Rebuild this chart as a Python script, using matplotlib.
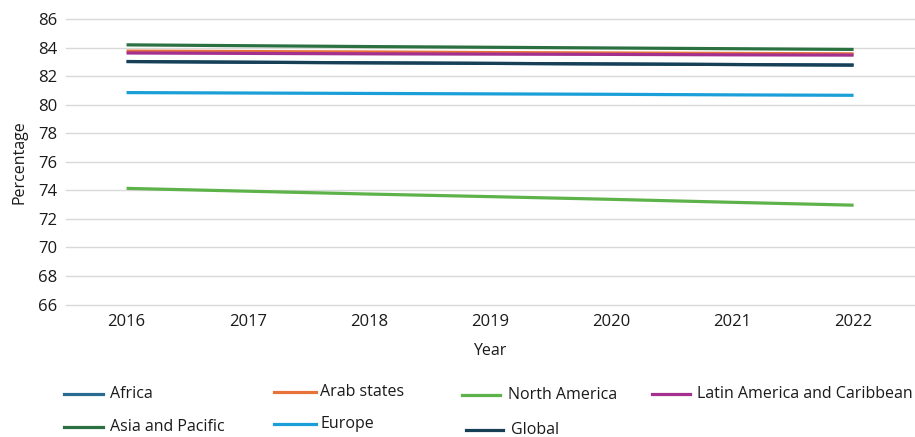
import matplotlib
matplotlib.use("Agg")
import matplotlib.pyplot as plt
from matplotlib.lines import Line2D

years = ["2016", "2017", "2018", "2019", "2020", "2021", "2022"]

# values (Africa hidden under Global)
africa = [83.05, 83.0, 82.96, 82.92, 82.88, 82.84, 82.8]
arab_states = [83.78, 83.75, 83.72, 83.68, 83.65, 83.62, 83.59]
north_america = [74.15, 73.95, 73.75, 73.57, 73.38, 73.17, 72.97]
latin_america = [83.65, 83.62, 83.59, 83.57, 83.55, 83.52, 83.5]
asia_pacific = [84.22, 84.16, 84.1, 84.05, 84.0, 83.95, 83.9]
europe = [80.87, 80.84, 80.81, 80.78, 80.75, 80.71, 80.68]
global_avg = [83.05, 83.0, 82.96, 82.92, 82.88, 82.84, 82.8]

series = [
    ("Africa", africa, "#2c6b91"),
    ("Arab states", arab_states, "#e8733a"),
    ("North America", north_america, "#5db349"),
    ("Latin America and Caribbean", latin_america, "#a3308f"),
    ("Asia and Pacific", asia_pacific, "#2a7041"),
    ("Europe", europe, "#1a9fd8"),
    ("Global", global_avg, "#173f55"),
]

plt.rcParams['font.family'] = ['Open Sans', 'DejaVu Sans']

fig = plt.figure(figsize=(9.15, 4.37), dpi=100)
ax = fig.add_axes([0.0721, 0.3032, 0.927, 0.6522])

x = list(range(len(years)))
for name, vals, col in series:
    ax.plot(x, vals, color=col, lw=2.3, solid_capstyle='butt')

ax.set_xlim(-0.5, len(years) - 0.5)
ax.set_ylim(66, 86)
ax.set_yticks(range(66, 87, 2))
ax.set_xticks(x)
ax.set_xticklabels(years)
ax.tick_params(length=0, labelsize=12, colors='#1a1a1a', pad=6)
ax.tick_params(axis='x', pad=7)
ax.grid(axis='y', color='#d9d9d9', lw=1)
for gl in ax.get_ygridlines():
    gl.set_clip_on(False)
ax.set_axisbelow(True)
for s in ax.spines.values():
    s.set_visible(False)

ax.set_xlabel("Year", fontsize=11.5, color='#1a1a1a', labelpad=9)
ax.set_ylabel("Percentage", fontsize=11.5, color='#1a1a1a', labelpad=8)

# manual legend layout like the source
W, H = 915.0, 437.0
legend_pos = [
    (64, 103, 394, 110),
    (274, 316, 392, 320),
    (462, 500, 395, 508),
    (652, 690, 394, 697),
    (64, 103, 427, 110),
    (274, 316, 424, 320),
    (466, 503, 430, 511),
]
for (name, vals, col), (x0, x1, yy, tx) in zip(series, legend_pos):
    fig.add_artist(Line2D([x0 / W, x1 / W], [1 - yy / H, 1 - yy / H],
                          color=col, lw=2.3, transform=fig.transFigure))
    fig.text(tx / W, 1 - yy / H, name, fontsize=11.5, color='#1a1a1a',
             va='center', ha='left')

fig.savefig("out.png", dpi=100)
